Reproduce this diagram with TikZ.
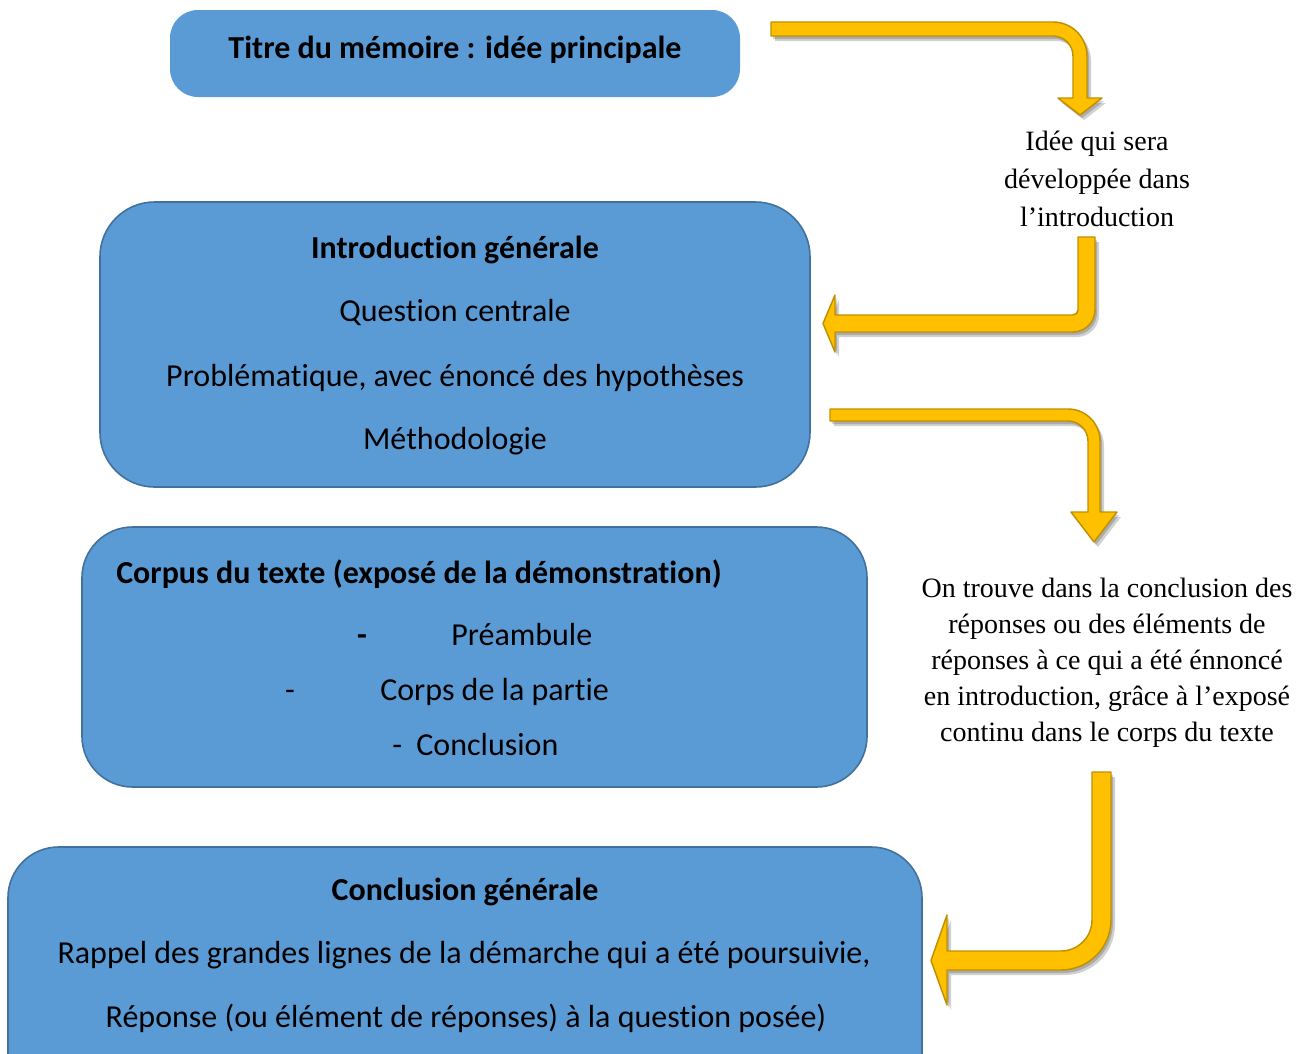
\documentclass[tikz,border=0pt]{standalone}
\usepackage{fontspec}
\setmainfont{Carlito}[Ligatures=NoCommon]
\newfontfamily\serifgar{Liberation Serif}
\definecolor{boxfill}{HTML}{5B9BD5}
\definecolor{boxline}{HTML}{41719C}
\definecolor{arrfill}{HTML}{FFC000}
\definecolor{arrline}{HTML}{BF9000}
\def\arrA{(771,22) -- (1053,22) .. controls (1071.8,22) and (1087,37.2) .. (1087,56) -- (1087,98) -- (1102,98) -- (1080,115) -- (1058,98) -- (1073,98) -- (1073,56) .. controls (1073,44.95) and (1064.05,36) .. (1053,36) -- (771,36) -- cycle}
\def\arrB{(1078,237) -- (1095,237) -- (1095,310) .. controls (1095,322.15) and (1085.15,332) .. (1073,332) -- (835,332) -- (835,352) -- (823,323.5) -- (835,295) -- (835,315) -- (1073,315) .. controls (1075.76,315) and (1078,312.76) .. (1078,310) -- cycle}
\def\arrC{(830,409) -- (1068,409) .. controls (1085.67,409) and (1100,423.33) .. (1100,441) -- (1100,512) -- (1117,512) -- (1094,542) -- (1071,512) -- (1088,512) -- (1088,441) .. controls (1088,429.95) and (1079.05,421) .. (1068,421) -- (830,421) -- cycle}
\def\arrD{(1092,772) -- (1111,772) -- (1111,920) .. controls (1111,947.6) and (1088.6,970) .. (1061,970) -- (947,970) -- (947,1005) -- (931,960.5) -- (947,915) -- (947,951) -- (1061,951) .. controls (1078.1,951) and (1092,937.1) .. (1092,920) -- cycle}
\begin{document}
\begin{tikzpicture}[x=0.75pt,y=-0.75pt,
  bluebox/.style={rounded corners=#1, fill=boxfill, draw=boxline, line width=1.2pt},
  txt/.style={inner sep=0pt, text height=0.75em, text depth=0.22em, font=\fontsize{24}{28}\selectfont},
  btxt/.style={txt, font=\fontsize{24}{28}\selectfont\bfseries},
  side/.style={inner sep=0pt, align=center, font=\serifgar\fontsize{21}{27}\selectfont},
  arrshade/.style={fill=black, opacity=0.18},
  arrbody/.style={fill=arrfill, draw=arrline, line width=1.1pt, line join=round}
]
\clip (0,0) rectangle (1315,1054);
\fill[white] (0,0) rectangle (1315,1054);

% boxes
\node[rounded corners=21pt, fill=boxfill, minimum width=427.5pt, minimum height=65.25pt, inner sep=0pt] (titlebox) at (455,53.5) {};
\node[bluebox=41pt, minimum width=532.5pt, minimum height=213.75pt, inner sep=0pt] (introbox) at (455,344.5) {};
\node[bluebox=38pt, minimum width=588.75pt, minimum height=195pt, inner sep=0pt] (corpusbox) at (474.5,657) {};
\node[bluebox=38pt, minimum width=685.5pt, minimum height=195pt, inner sep=0pt] (conclbox) at (465,977) {};

% title
\node[btxt] (t1) at (455,55) {Titre du mémoire : idée principale};

% intro
\node[btxt] (i1) at (455,255) {Introduction générale};
\node[txt] (i2) at (455,318) {Question centrale};
\node[txt] (i3) at (455,383) {Problématique, avec énoncé des hypothèses};
\node[txt] (i4) at (455,446) {Méthodologie};

% corpus
\node[btxt, anchor=west] (c1) at (116,580) {Corpus du texte (exposé de la démonstration)};
\node[btxt] (c2a) at (362,642) {-};
\node[txt, anchor=west] (c2) at (451,642) {Préambule};
\node[txt] (c3a) at (290,697) {-};
\node[txt, anchor=west] (c3) at (380,697) {Corps de la partie};
\node[txt, anchor=west] (c4) at (392,752) {-\hspace{0.45em}Conclusion};

% conclusion
\node[btxt] (g1) at (465,897) {Conclusion générale};
\node[txt] (g2) at (464,960) {Rappel des grandes lignes de la démarche qui a été poursuivie,};
\node[txt] (g3) at (466,1024) {Réponse (ou élément de réponses) à la question posée)};

% side texts
\node[side, font=\serifgar\fontsize{21}{28.5}\selectfont] (s1) at (1097,179) {Idée qui sera\\développée dans\\l’introduction};
\node[side] (s2) at (1107,663) {On trouve dans la conclusion des\\réponses ou des éléments de\\réponses à ce qui a été énnoncé\\en introduction, grâce à l’exposé\\continu dans le corps du texte};

% arrows: shadows
\begin{scope}[shift={(4,5)}]
\fill[arrshade] \arrA; \fill[arrshade] \arrB; \fill[arrshade] \arrC; \fill[arrshade] \arrD;
\end{scope}
\begin{scope}[shift={(2,3)}]
\fill[arrshade] \arrA; \fill[arrshade] \arrB; \fill[arrshade] \arrC; \fill[arrshade] \arrD;
\end{scope}
\path[arrbody] \arrA;
\path[arrbody] \arrB;
\path[arrbody] \arrC;
\path[arrbody] \arrD;
\end{tikzpicture}
\end{document}
